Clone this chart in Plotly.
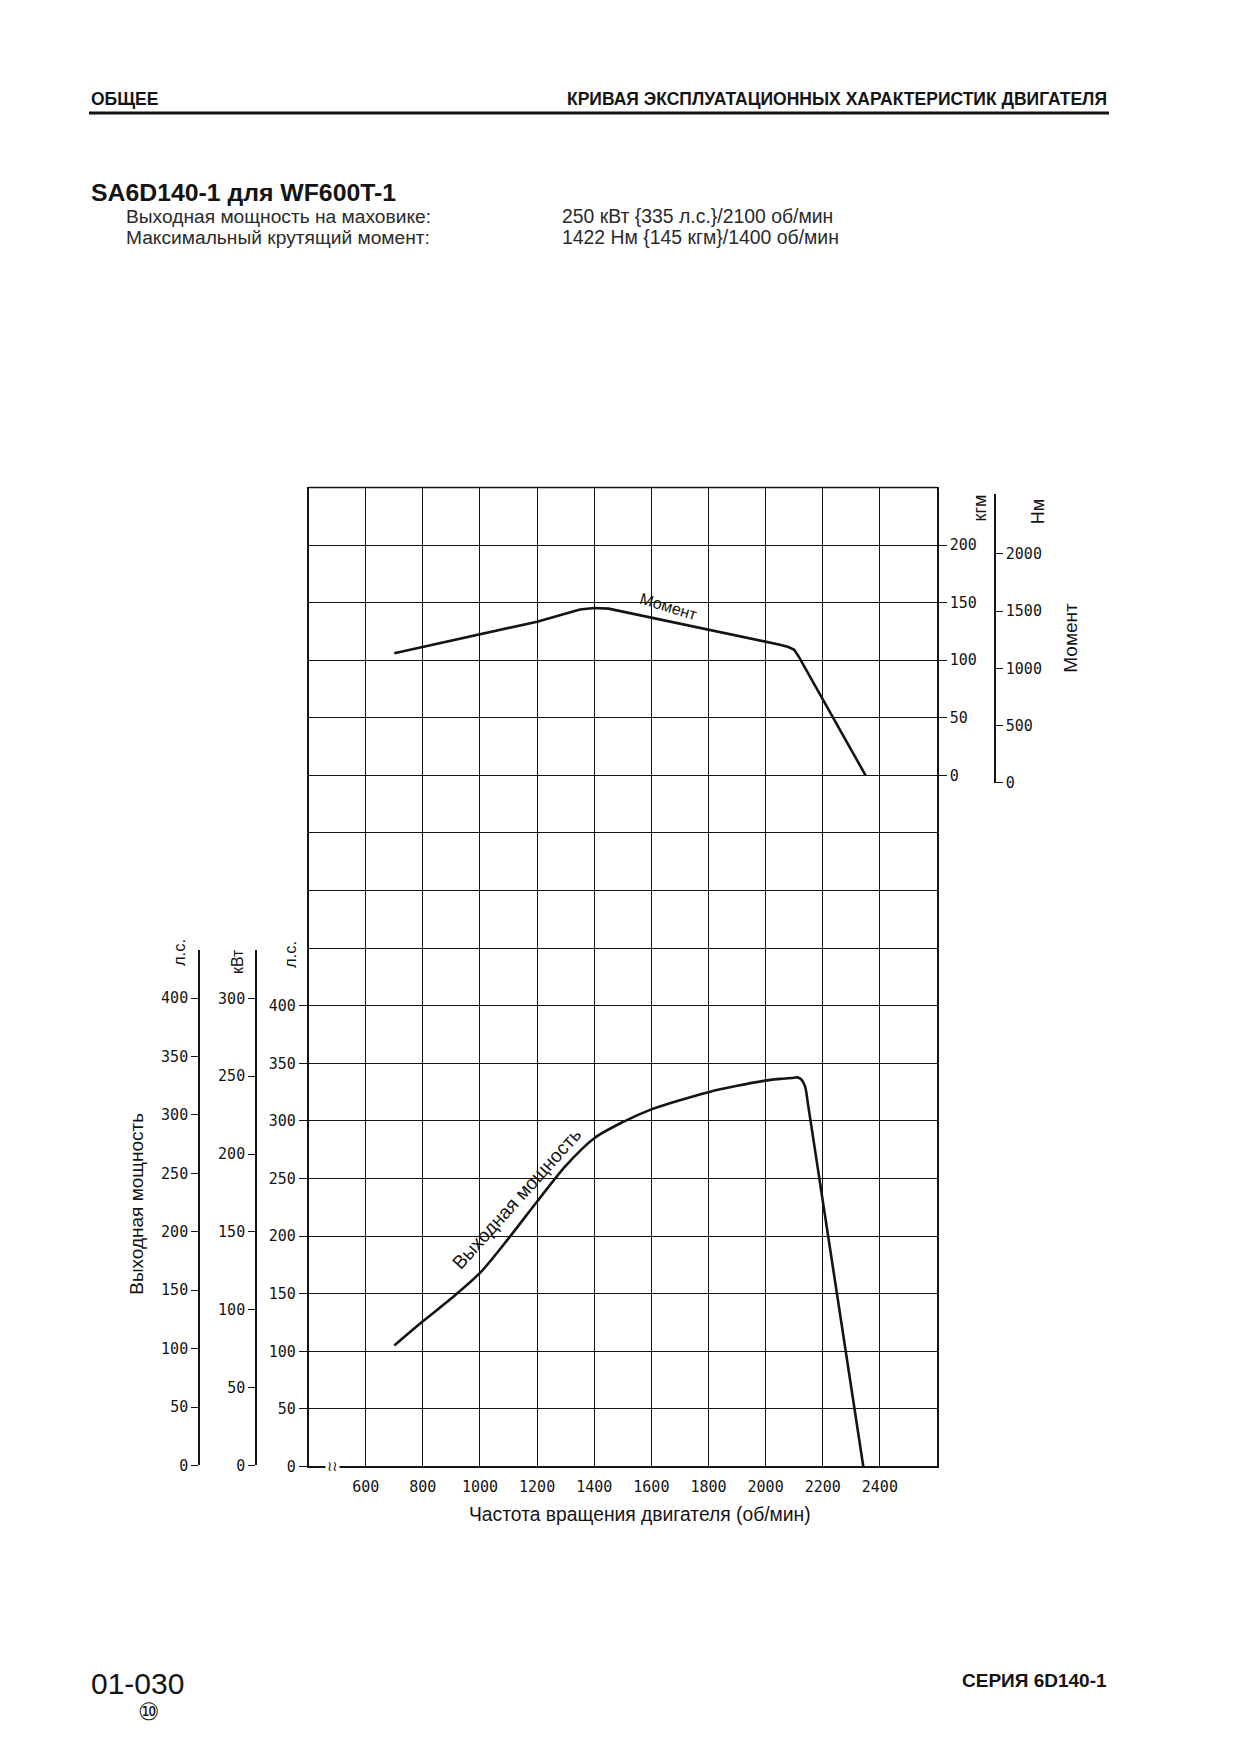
import plotly.graph_objects as go

# ---------------- data ----------------
rpm_ticks = [600, 800, 1000, 1200, 1400, 1600, 1800, 2000, 2200, 2400]

torque_rpm = [700, 1000, 1200, 1350, 1400, 1450, 1600, 1800, 2000, 2050, 2080, 2100, 2115, 2350]
torque_kgm = [106, 122.5, 133.5, 144, 145.3, 144.8, 137, 126.5, 116.5, 113.5, 111.5, 109, 103.5, 0]

power_rpm = [700, 800, 900, 1000, 1100, 1200, 1300, 1400, 1500, 1600, 1700, 1800, 1900,
             2000, 2050, 2100, 2110, 2125, 2138, 2150, 2342]
power_hp = [105, 126, 146, 168, 198, 230, 261, 285, 299, 310, 318, 325, 330.5,
            335, 336.5, 337.5, 337.8, 336, 330, 312, 0]

hp_ticks = [0, 50, 100, 150, 200, 250, 300, 350, 400]
kw_ticks = [0, 50, 100, 150, 200, 250, 300]
kgm_ticks = [0, 50, 100, 150, 200]
nm_ticks = [0, 500, 1000, 1500, 2000]

# ---------------- page geometry ----------------
W, H = 1240, 1754
def fx(x):
    return x / W
def fy(y):
    return 1 - y / H

C = 7.0     # vertical offset for the chart block
HD = 1.5    # vertical offset for the header block
FT = 9.0    # vertical offset for the footer block

GL, GR, GT, GB = 308.6, 937.0, 483.0 + C, 1467.0 + C

INK = "#141414"
TICKFONT = dict(family="DejaVu Sans Mono", size=15, color=INK)
SANS = "Liberation Sans, Arial, sans-serif"

fig = go.Figure()

fig.add_trace(go.Scatter(x=torque_rpm, y=torque_kgm, mode="lines", yaxis="y2",
                         line=dict(color=INK, width=2.6), hoverinfo="skip", showlegend=False))
fig.add_trace(go.Scatter(x=power_rpm, y=power_hp, mode="lines", yaxis="y",
                         line=dict(color=INK, width=2.6, shape="spline", smoothing=0.8),
                         hoverinfo="skip", showlegend=False))
# carriers for the extra scales
for ax in ["y3", "y4", "y5"]:
    fig.add_trace(go.Scatter(x=[None], y=[None], xaxis="x2", yaxis=ax, mode="lines",
                             hoverinfo="skip", showlegend=False))

axline = dict(showline=True, linecolor=INK, linewidth=1.6)

fig.update_layout(
    width=W, height=H,
    margin=dict(l=0, r=0, t=0, b=0),
    paper_bgcolor="white", plot_bgcolor="rgba(0,0,0,0)",
    xaxis=dict(domain=[fx(GL), fx(GR)], range=[400, 2600], anchor="y",
               tickmode="array", tickvals=rpm_ticks, ticks="",
               showgrid=True, gridcolor=INK, gridwidth=1.3,
               zeroline=False, tickfont=TICKFONT, ticklabelstandoff=6,
               mirror=False, **axline),
    xaxis2=dict(domain=[fx(GL), fx(GR)], range=[400, 2600], overlaying="x",
                visible=False, anchor="y"),
    yaxis=dict(domain=[fy(GB), fy(GT)], range=[0, 850], anchor="x", side="left",
               tickmode="array", tickvals=hp_ticks, ticks="outside", ticklen=8,
               tickcolor=INK, tickwidth=1.4,
               showgrid=True, gridcolor=INK, gridwidth=1.3, zeroline=False,
               minor=dict(tickmode="linear", tick0=0, dtick=50, showgrid=True,
                          gridcolor=INK, gridwidth=1.3, ticks=""),
               tickfont=TICKFONT, **axline),
    yaxis2=dict(overlaying="y", side="right", anchor="x", range=[-600, 250],
                tickmode="array", tickvals=kgm_ticks, ticks="outside", ticklen=8,
                tickcolor=INK, tickwidth=1.4, showgrid=False, zeroline=False,
                tickfont=TICKFONT, **axline),
    yaxis3=dict(domain=[fy(1466 + C), fy(948 + C)], range=[0, 441], anchor="free",
                position=fx(199), side="left", tickmode="array", tickvals=hp_ticks,
                ticks="outside", ticklen=7, tickcolor=INK, tickwidth=1.4,
                showgrid=False, zeroline=False, tickfont=TICKFONT, **axline),
    yaxis4=dict(domain=[fy(1466 + C), fy(948 + C)], range=[0, 331], anchor="free",
                position=fx(256), side="left", tickmode="array", tickvals=kw_ticks,
                ticks="outside", ticklen=7, tickcolor=INK, tickwidth=1.4,
                showgrid=False, zeroline=False, tickfont=TICKFONT, **axline),
    yaxis5=dict(domain=[fy(780 + C), fy(490 + C)], range=[0, 2520], anchor="free",
                position=fx(995), side="right", tickmode="array", tickvals=nm_ticks,
                ticks="outside", ticklen=7, tickcolor=INK, tickwidth=1.4,
                showgrid=False, zeroline=False, tickfont=TICKFONT, **axline),
)

# top border of the grid
fig.add_shape(type="line", xref="paper", yref="paper", x0=fx(GL), x1=fx(GR),
              y0=fy(GT), y1=fy(GT), line=dict(color=INK, width=1.6))
# header rule
fig.add_shape(type="line", xref="paper", yref="paper", x0=fx(89), x1=fx(1109),
              y0=fy(112 + HD), y1=fy(112 + HD), line=dict(color=INK, width=3))

ann = []
def text(x, y, s, size, family=SANS, xanchor="center", angle=0, color=INK, yanchor="middle"):
    ann.append(dict(x=fx(x), y=fy(y), xref="paper", yref="paper", text=s, showarrow=False,
                    xanchor=xanchor, yanchor=yanchor, textangle=angle,
                    font=dict(family=family, size=size, color=color)))

# header
text(89, 98 + HD, "<b>ОБЩЕЕ</b>", 17.5, SANS, "left")
text(1109, 98 + HD, "<b>КРИВАЯ ЭКСПЛУАТАЦИОННЫХ ХАРАКТЕРИСТИК ДВИГАТЕЛЯ</b>", 17.5, SANS, "right")
text(89, 192 + HD, "<b>SA6D140-1 для WF600T-1</b>", 24.8, SANS, "left")
text(124, 216 + HD, "Выходная мощность на маховике:", 19.2, SANS, "left", color="#2a2a2a")
text(124, 237 + HD, "Максимальный крутящий момент:", 19.2, SANS, "left", color="#2a2a2a")
text(560, 216 + HD, "250 кВт {335 л.с.}/2100 об/мин", 19.4, SANS, "left", color="#2a2a2a")
text(560, 237 + HD, "1422 Нм {145 кгм}/1400 об/мин", 19.4, SANS, "left", color="#2a2a2a")

# axis titles / units
text(640, 1515 + C, "Частота вращения двигателя (об/мин)", 19.3)
text(137, 1203 + C, "Выходная мощность", 19, angle=-90)
text(1071, 634 + C, "Момент", 19, angle=-90)
text(980, 504 + C, "кгм", 18, angle=-90)
text(1038, 508 + C, "Нм", 18, angle=-90)
text(179, 951 + C, "л.с.", 16.5, angle=-90)
text(237, 960 + C, "кВт", 16, angle=-90)
text(290, 953 + C, "л.с.", 16.5, angle=-90)

# curve labels
text(668, 603 + C, "Момент", 16, angle=17)
text(517, 1198 + C, "Выходная мощность", 19, angle=-48)

# footer
text(89, 1683 + FT, "01-030", 30, SANS, "left")
text(149, 1711 + FT, "⑩", 24)
text(1109, 1680 + FT, "<b>СЕРИЯ 6D140-1</b>", 19, SANS, "right")

# axis break mark on the rpm axis
ann.append(dict(x=485, y=0, xref="x", yref="y", text="≀≀", showarrow=False,
                font=dict(family="DejaVu Sans", size=14, color=INK), bgcolor="white"))

fig.update_layout(annotations=ann)

fig.write_html("out.html", config={"displayModeBar": False},
               post_script="document.body.style.margin='0px';document.body.style.overflow='hidden';")
